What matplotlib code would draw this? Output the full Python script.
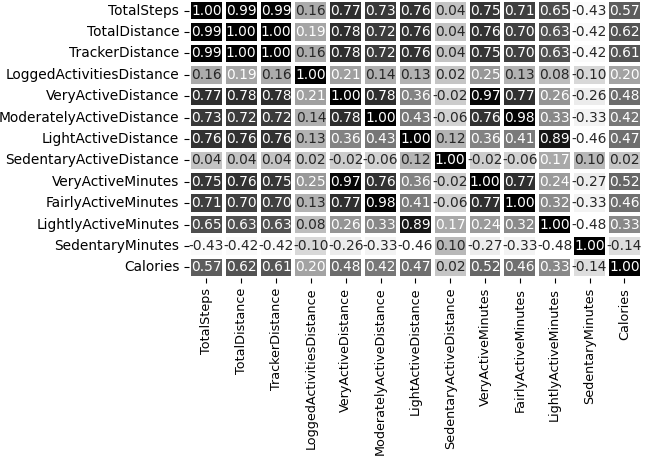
import matplotlib
matplotlib.use("Agg")
import matplotlib.pyplot as plt
import seaborn as sns
import numpy as np
import pandas as pd

cols = ["TotalSteps", "TotalDistance", "TrackerDistance", "LoggedActivitiesDistance",
        "VeryActiveDistance", "ModeratelyActiveDistance", "LightActiveDistance",
        "SedentaryActiveDistance", "VeryActiveMinutes", "FairlyActiveMinutes",
        "LightlyActiveMinutes", "SedentaryMinutes", "Calories"]

corr_rows = [
    [1.00, 0.99, 0.99, 0.16, 0.77, 0.73, 0.76, 0.04, 0.75, 0.71, 0.65, -0.43, 0.57],
    [0.99, 1.00, 1.00, 0.19, 0.78, 0.72, 0.76, 0.04, 0.76, 0.70, 0.63, -0.42, 0.62],
    [0.99, 1.00, 1.00, 0.16, 0.78, 0.72, 0.76, 0.04, 0.75, 0.70, 0.63, -0.42, 0.61],
    [0.16, 0.19, 0.16, 1.00, 0.21, 0.14, 0.13, 0.02, 0.25, 0.13, 0.08, -0.10, 0.20],
    [0.77, 0.78, 0.78, 0.21, 1.00, 0.78, 0.36, -0.02, 0.97, 0.77, 0.26, -0.26, 0.48],
    [0.73, 0.72, 0.72, 0.14, 0.78, 1.00, 0.43, -0.06, 0.76, 0.98, 0.33, -0.33, 0.42],
    [0.76, 0.76, 0.76, 0.13, 0.36, 0.43, 1.00, 0.12, 0.36, 0.41, 0.89, -0.46, 0.47],
    [0.04, 0.04, 0.04, 0.02, -0.02, -0.06, 0.12, 1.00, -0.02, -0.06, 0.17, 0.10, 0.02],
    [0.75, 0.76, 0.75, 0.25, 0.97, 0.76, 0.36, -0.02, 1.00, 0.77, 0.24, -0.27, 0.52],
    [0.71, 0.70, 0.70, 0.13, 0.77, 0.98, 0.41, -0.06, 0.77, 1.00, 0.32, -0.33, 0.46],
    [0.65, 0.63, 0.63, 0.08, 0.26, 0.33, 0.89, 0.17, 0.24, 0.32, 1.00, -0.48, 0.33],
    [-0.43, -0.42, -0.42, -0.10, -0.26, -0.33, -0.46, 0.10, -0.27, -0.33, -0.48, 1.00, -0.14],
    [0.57, 0.62, 0.61, 0.20, 0.48, 0.42, 0.47, 0.02, 0.52, 0.46, 0.33, -0.14, 1.00],
]

corr = pd.DataFrame(corr_rows, index=cols, columns=cols)

fig = plt.figure(figsize=(6.45, 4.58), dpi=100)
ax = fig.add_axes([0.293, 0.393, 0.702, 0.607])
sns.heatmap(corr, annot=True, fmt=".2f", cmap="Greys", linewidths=1.5,
            linecolor="white", cbar=False, ax=ax, annot_kws={"size": 9.9})
ax.tick_params(axis="y", labelsize=9.95)
ax.tick_params(axis="x", labelsize=9.2)
plt.setp(ax.get_xticklabels(), rotation=90)
plt.setp(ax.get_yticklabels(), rotation=0)

fig.savefig("out.png", dpi=100)
